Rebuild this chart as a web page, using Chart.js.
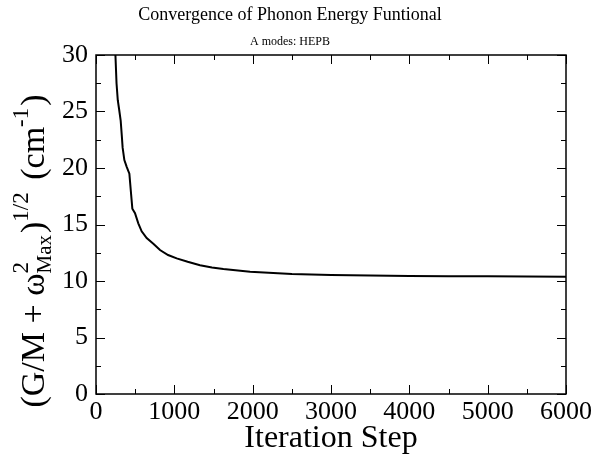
<!DOCTYPE html>
<html>
<head>
<meta charset="utf-8">
<script src="https://cdn.jsdelivr.net/npm/chart.js@4.4.0/dist/chart.umd.min.js"></script>
<style>
  html, body { margin: 0; padding: 0; background: #fff; }
  #wrap { width: 600px; height: 459px; }
</style>
</head>
<body>
<div id="wrap"><canvas id="convChart" width="600" height="459"></canvas></div>
<script>
// Data
const iterations = [230, 248, 262, 278, 295, 315, 330, 340, 362, 392, 426, 443, 464, 498, 540, 583, 647, 732, 817, 920, 1030, 1170, 1328, 1480, 1626, 1967, 2500, 3000, 3500, 4000, 4500, 5000, 5500, 6000];
const energies = [31.5, 30, 27.5, 26.0, 25.2, 24.2, 22.8, 21.8, 20.7, 20.1, 19.5, 18.1, 16.4, 16.0, 15.1, 14.4, 13.8, 13.3, 12.74, 12.3, 12.0, 11.7, 11.4, 11.2, 11.06, 10.82, 10.62, 10.54, 10.49, 10.45, 10.43, 10.41, 10.39, 10.38];

const xMajor = 1000, xMinor = 500;
const yMajor = 5, yMinor = 2.5;

const serif = '"Liberation Serif", "Times New Roman", serif';

// frame with inward ticks on all four sides (like the original plot)
const frameTicks = {
    id: 'frameTicks',
    afterDraw(chart) {
        const { ctx, chartArea: a, scales: { x, y } } = chart;
        ctx.save();
        ctx.strokeStyle = '#000';
        ctx.lineWidth = 1.5;
        ctx.strokeRect(a.left, a.top, a.right - a.left, a.bottom - a.top);
        ctx.lineWidth = 1;
        ctx.beginPath();
        for (let v = x.min; v <= x.max; v += xMinor) {
            const px = Math.round(x.getPixelForValue(v)) + 0.5;
            const len = v % xMajor === 0 ? 9 : 5;
            ctx.moveTo(px, a.bottom); ctx.lineTo(px, a.bottom - len);
            ctx.moveTo(px, a.top); ctx.lineTo(px, a.top + len);
        }
        for (let v = y.min; v <= y.max; v += yMinor) {
            const py = Math.round(y.getPixelForValue(v)) + 0.5;
            const len = v % yMajor === 0 ? 9 : 5;
            ctx.moveTo(a.left, py); ctx.lineTo(a.left + len, py);
            ctx.moveTo(a.right, py); ctx.lineTo(a.right - len, py);
        }
        ctx.stroke();
        ctx.restore();
    }
};

// y axis title with super/subscripts: (G/M + ω²_Max)^(1/2) (cm^-1)
const yTitle = {
    id: 'yTitle',
    afterDraw(chart) {
        const { ctx } = chart;
        const main = 'px ' + serif;
        const parts = [
            { t: '(G/M + \u03c9', size: 34, dy: 0 },
            { t: '2', size: 23, dy: -16, gap: 2, stackWith: { t: 'Max', size: 21, dy: 7 } },
            { t: ')', size: 34, dy: 0 },
            { t: '1/2', size: 23, dy: -16, gap: 4 },
            { t: ' (cm', size: 34, dy: 0 },
            { t: '-1', size: 23, dy: -16, gap: 2 },
            { t: ')', size: 34, dy: 0 }
        ];
        const widthOf = (p) => { ctx.font = p.size + main; return ctx.measureText(p.t).width; };
        let total = 0;
        parts.forEach(p => {
            p.w = widthOf(p);
            if (p.stackWith) p.w = Math.max(p.w, widthOf(p.stackWith));
            p.w += p.gap || 0;
            total += p.w;
        });
        ctx.save();
        ctx.translate(44, 251);
        ctx.rotate(-Math.PI / 2);
        ctx.fillStyle = '#000';
        ctx.textBaseline = 'alphabetic';
        ctx.textAlign = 'left';
        let cx = -total / 2;
        parts.forEach(p => {
            ctx.font = p.size + main;
            ctx.fillText(p.t, cx, p.dy);
            if (p.stackWith) {
                ctx.font = p.stackWith.size + main;
                ctx.fillText(p.stackWith.t, cx, p.stackWith.dy);
            }
            cx += p.w;
        });
        ctx.restore();
    }
};

const chartCtx = document.getElementById('convChart').getContext('2d');
const convChart = new Chart(chartCtx, {
    type: 'line',
    data: {
        datasets: [{
            data: iterations.map((it, i) => ({ x: it, y: energies[i] })),
            borderColor: '#000',
            borderWidth: 2,
            pointRadius: 0,
            tension: 0,
            fill: false
        }]
    },
    options: {
        responsive: false,
        animation: false,
        layout: { padding: { left: 0, right: 20, top: 0, bottom: 0 } },
        plugins: {
            legend: { display: false },
            tooltip: { enabled: false },
            title: {
                display: true,
                text: 'Convergence of Phonon Energy Funtional',
                color: '#000',
                font: { family: serif, size: 18, weight: 'normal' },
                padding: { top: 4, bottom: 4 }
            },
            subtitle: {
                display: true,
                text: 'A modes: HEPB',
                color: '#000',
                font: { family: serif, size: 12, weight: 'normal' },
                padding: { top: 5, bottom: 6 }
            }
        },
        scales: {
            x: {
                type: 'linear',
                min: 0,
                max: 6000,
                grid: { display: false, drawTicks: false },
                border: { display: false },
                ticks: {
                    stepSize: xMajor,
                    color: '#000',
                    font: { family: serif, size: 26 },
                    padding: 3,
                    maxRotation: 0,
                    callback: (v) => String(v)
                },
                title: {
                    display: true,
                    text: 'Iteration Step',
                    color: '#000',
                    font: { family: serif, size: 32 },
                    padding: { top: 0, bottom: 1 }
                },
                afterFit(scale) { scale.height = 65; }
            },
            y: {
                min: 0,
                max: 30,
                grid: { display: false, drawTicks: false },
                border: { display: false },
                ticks: {
                    stepSize: yMajor,
                    color: '#000',
                    font: { family: serif, size: 26 },
                    padding: 8,
                    callback: (v) => String(v)
                },
                afterFit(scale) { scale.width = 96; }
            },
            // empty right axis only to keep the plot frame where the original has it
            yRight: {
                position: 'right',
                min: 0,
                max: 30,
                grid: { display: false, drawTicks: false },
                border: { display: false },
                ticks: { display: false },
                afterFit(scale) { scale.width = 14; }
            }
        }
    },
    plugins: [frameTicks, yTitle]
});
</script>
</body>
</html>
